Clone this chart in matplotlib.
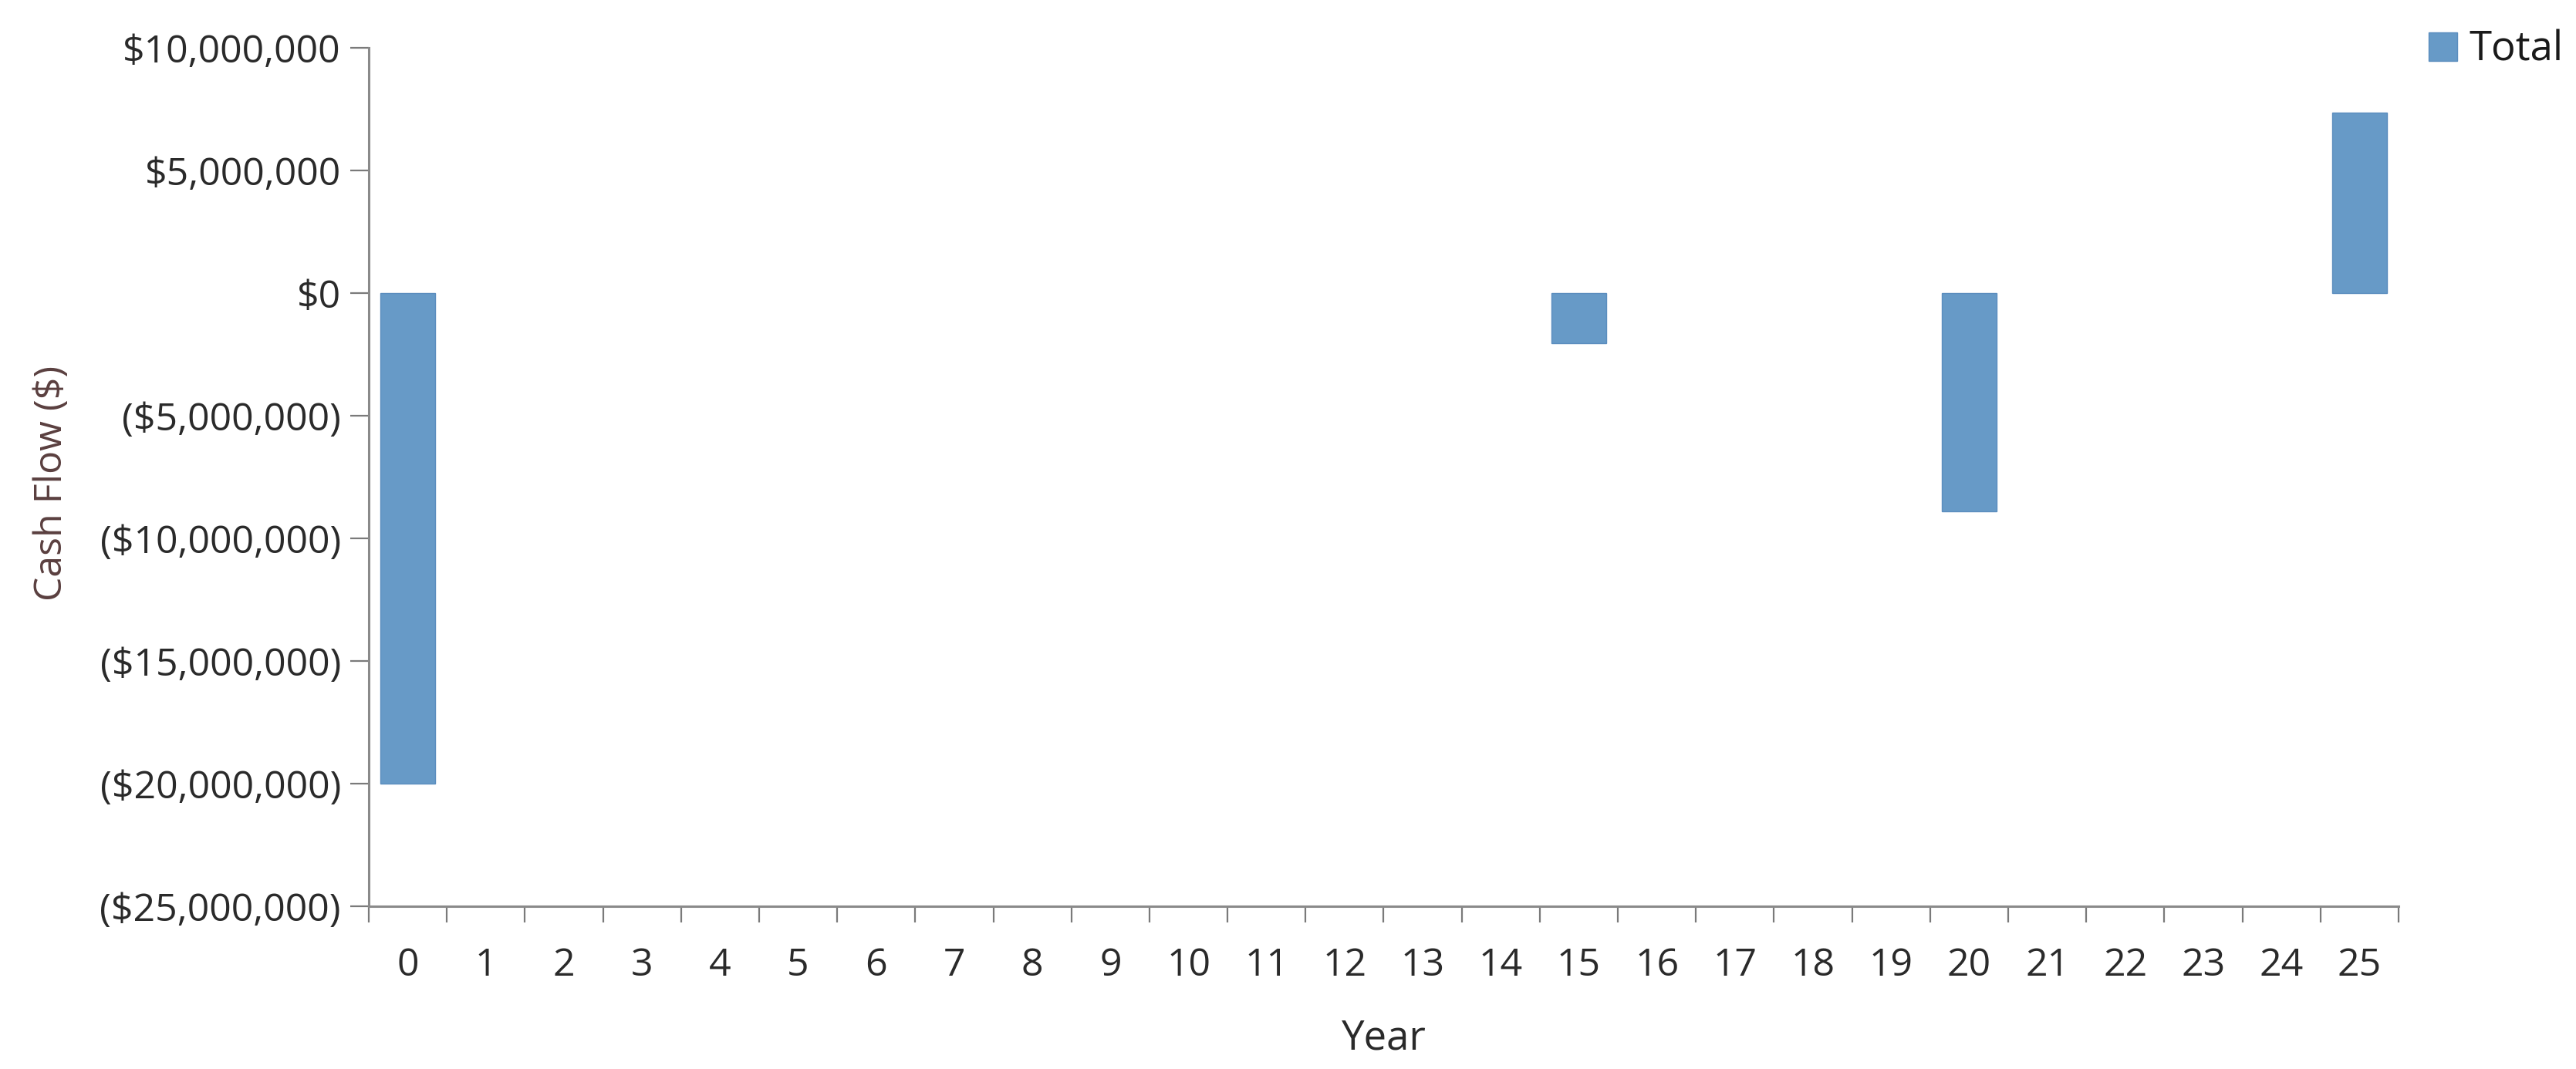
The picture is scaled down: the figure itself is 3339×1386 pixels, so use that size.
import matplotlib
matplotlib.use("Agg")
import matplotlib.pyplot as plt
from matplotlib.ticker import FuncFormatter, FixedLocator
from matplotlib.patches import Patch

# ---- data ----
years = list(range(0, 26))
total = [0] * 26
total[0] = -20_000_000
total[15] = -2_050_000
total[20] = -8_900_000
total[25] = 7_350_000
series_name = "Total"
y_ticks = [10_000_000, 5_000_000, 0, -5_000_000, -10_000_000, -15_000_000, -20_000_000, -25_000_000]
x_label = "Year"
y_label = "Cash Flow ($)"

plt.rcParams['font.family'] = ['Open Sans', 'DejaVu Sans']

W, H = 3339, 1386
dpi = 100
fig = plt.figure(figsize=(W / dpi, H / dpi), dpi=dpi)
left, right, top, bottom = 478, 3109, 62, 1175
ax = fig.add_axes([left / W, 1 - bottom / H, (right - left) / W, (bottom - top) / H])

bar_color = "#679AC7"
nonzero = [(y, v) for y, v in zip(years, total) if v != 0]
ax.bar([y for y, _ in nonzero], [v for _, v in nonzero], width=0.7,
       color=bar_color, edgecolor="#5B8DBE", linewidth=1.0)

ax.set_xlim(-0.5, len(years) - 0.5)
ax.set_ylim(min(y_ticks), max(y_ticks))

def money(v, pos=None):
    v = int(round(v))
    if v == 0:
        return "$0"
    if v < 0:
        return "(${:,})".format(-v)
    return "${:,}".format(v)

ax.yaxis.set_major_locator(FixedLocator(y_ticks))
ax.yaxis.set_major_formatter(FuncFormatter(money))

ax.set_xticks(years)
ax.set_xticklabels([str(y) for y in years])
ax.set_xticks([y - 0.5 for y in years] + [years[-1] + 0.5], minor=True)

for s in ("top", "right"):
    ax.spines[s].set_visible(False)
for s in ("left", "bottom"):
    ax.spines[s].set_color("#8a8a8a")
    ax.spines[s].set_linewidth(2.2)

tick_color = "#2a2a2a"
fs = 36
ax.tick_params(axis="y", which="major", length=17, width=1.6, color="#7a7a7a",
               labelsize=fs, labelcolor=tick_color, pad=9)
ax.tick_params(axis="x", which="major", length=0, labelsize=fs, labelcolor=tick_color, pad=38)
ax.tick_params(axis="x", which="minor", length=15, width=1.6, color="#7a7a7a")

ax.set_xlabel(x_label, fontsize=38, color=tick_color)
ax.xaxis.set_label_coords(0.5, -0.130)
ax.set_ylabel(y_label, fontsize=36, color="#5a3f3f")
ax.yaxis.set_label_coords(-0.1468, 0.493)

handle = Patch(facecolor=bar_color, edgecolor="#5B8DBE", label=series_name)
fig.legend(handles=[handle], loc="upper left", bbox_to_anchor=(3148 / W, 1 - 38 / H),
           frameon=False, fontsize=38, handlelength=0.7, handleheight=0.7,
           handletextpad=0.3, borderaxespad=0, borderpad=0, labelcolor="#1a1a1a")

fig.savefig("out.png", dpi=dpi, facecolor="white")
